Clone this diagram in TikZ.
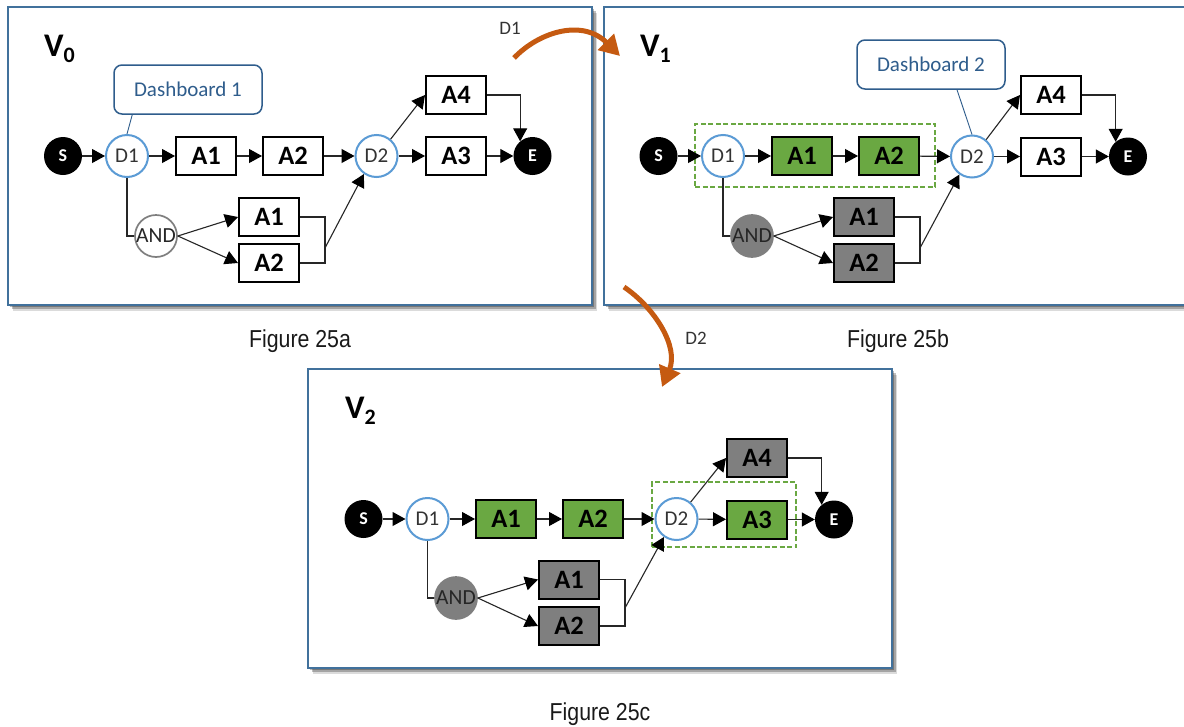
\documentclass[tikz,border=0pt]{standalone}
\usepackage{fontspec}
\setmainfont{Carlito}
\newfontfamily\capfont{Liberation Sans}
\usetikzlibrary{arrows.meta,shadows}
\definecolor{panelblue}{HTML}{41719C}
\definecolor{dashblue}{HTML}{2F5D8C}
\definecolor{ringblue}{HTML}{5B9BD5}
\definecolor{okgreen}{HTML}{6AA842}
\definecolor{boxgray}{HTML}{7F7F7F}
\definecolor{burnt}{HTML}{C55A11}
\newcommand{\fs}[1]{\fontsize{#1}{#1}\selectfont}
\newcommand{\vlabel}[1]{{\fs{33}\bfseries V\raisebox{-6.5pt}{\fs{22}#1}}}
\tikzset{
  x=1pt,y=-1pt,
  panel/.style={draw=panelblue,line width=2pt,fill=white,inner sep=0pt,
    drop shadow={shadow xshift=2pt,shadow yshift=-2pt,opacity=.28,fill=black},
    drop shadow={shadow xshift=3.5pt,shadow yshift=-4pt,opacity=.25,fill=black},
    drop shadow={shadow xshift=5pt,shadow yshift=-6pt,opacity=.14,fill=black}},
  act/.style={draw=black,line width=2pt,fill=white,minimum width=60pt,minimum height=38pt,inner sep=0pt,font=\fs{26.5}\bfseries},
  actgreen/.style={act,fill=okgreen},
  actgray/.style={act,fill=boxgray},
  ends/.style={circle,fill=black,text=white,minimum size=38pt,inner sep=0pt,font=\fs{18}\bfseries},
  dec/.style={circle,draw=ringblue,line width=2pt,fill=white,minimum size=42pt,inner sep=0pt,font=\fs{21},text=black!80},
  andw/.style={circle,draw=boxgray,line width=1.7pt,fill=white,minimum size=42pt,inner sep=0pt,font=\fs{21.5},text=black!85},
  andg/.style={andw,fill=boxgray},
  dashbox/.style={draw=dashblue,line width=1.5pt,rounded corners=8pt,fill=white,inner sep=0pt,text=dashblue,font=\fs{21}},
  link/.style={draw=black!85,line width=1.1pt},
  arr/.style={link,-{Triangle[length=13pt,width=14pt,fill=black,color=black]}},
  callout/.style={draw=dashblue,line width=.9pt},
  groupbox/.style={draw=okgreen,line width=1.6pt,dash pattern=on 5pt off 2.5pt,inner sep=0pt},
  vtitle/.style={anchor=base west,inner sep=0pt},
  figcap/.style={font=\capfont\fs{24.5},xscale=.87,transform shape,inner sep=0pt,text=black!90},
  small/.style={font=\fs{19},text=black!80,inner sep=0pt},
  bigarrow/.style={draw=burnt,line width=5pt,-{Triangle[length=20pt,width=22pt]}},
}
\begin{document}
\begin{tikzpicture}
\useasboundingbox (0,0) rectangle (1184,726);
% ---------- panels
\node[panel,minimum width=584pt,minimum height=298pt] (pa) at (300,156) {};
\node[panel,minimum width=590pt,minimum height=298pt] (pb) at (899,156) {};
\node[panel,minimum width=584pt,minimum height=299pt] (pc) at (600,518.5) {};
% ---------- panel a
\node[vtitle] (va) at (44,56) {\vlabel{0}};
\node[dashbox,minimum width=148pt,minimum height=49pt] (da) at (188,89.5) {Dashboard 1};
\node[ends] (as) at (63,156) {S};
\node[dec] (ad1) at (127,156) {D1};
\node[act] (aa1) at (206,156) {A1};
\node[act] (aa2) at (293,156) {A2};
\node[dec] (ad2) at (376.5,156) {D2};
\node[act] (aa3) at (456,156) {A3};
\node[act] (aa4) at (456,95) {A4};
\node[ends] (ae) at (532.5,156) {E};
\node[andw] (aand) at (156,236) {AND};
\node[act] (ab1) at (269,217) {A1};
\node[act] (ab2) at (269,263) {A2};
\coordinate (am) at (325,248);
\draw[callout] (da.south west) ++(19,0) coordinate (dac) -- (ad1.north);
\draw[arr] (as) -- (ad1);
\draw[arr] (ad1) -- (aa1);
\draw[arr] (aa1) -- (aa2);
\draw[arr] (aa2) -- (ad2);
\draw[arr] (ad2) -- (aa3);
\draw[arr] (aa3) -- (ae);
\draw[arr] (ad2.50) -- (aa4.west);
\draw[arr] (aa4.east) -| (ae.130);
\draw[link] (ad1.south) |- (aand.west);
\draw[arr] (aand.east) -- (ab1.west);
\draw[arr] (aand.east) -- (ab2.west);
\draw[link] (ab1.east) -| (am);
\draw[link] (ab2.east) -| (am);
\draw[arr] (am) -- (ad2.235);
\node[figcap] (fa) at (300,341.5) {Figure 25a};
% ---------- panel b
\node[vtitle] (vb) at (640,56) {\vlabel{1}};
\node[dashbox,minimum width=148pt,minimum height=49pt] (db) at (931,64.5) {Dashboard 2};
\node[groupbox,minimum width=240pt,minimum height=63pt] (gb) at (815,155.5) {};
\node[ends] (bs) at (658.5,156) {S};
\node[dec] (bd1) at (723,156) {D1};
\node[actgreen] (ba1) at (802,156) {A1};
\node[actgreen] (ba2) at (889,156) {A2};
\node[dec] (bd2) at (972,156.5) {D2};
\node[act] (ba3) at (1051,156.5) {A3};
\node[act] (ba4) at (1051,95) {A4};
\node[ends] (be) at (1128,156.5) {E};
\node[andg] (band) at (752,236) {AND};
\node[actgray] (bb1) at (864,217) {A1};
\node[actgray] (bb2) at (864,263) {A2};
\coordinate (bm) at (920,248);
\draw[callout] (db.south) ++(26,0) coordinate (dbc) -- (bd2.north);
\draw[arr] (bs) -- (bd1);
\draw[arr] (bd1) -- (ba1);
\draw[arr] (ba1) -- (ba2);
\draw[arr] (ba2) -- (bd2);
\draw[arr] (bd2) -- (ba3);
\draw[arr] (ba3) -- (be);
\draw[arr] (bd2.50) -- (ba4.west);
\draw[arr] (ba4.east) -| (be.130);
\draw[link] (bd1.south) |- (band.west);
\draw[arr] (band.east) -- (bb1.west);
\draw[arr] (band.east) -- (bb2.west);
\draw[link] (bb1.east) -| (bm);
\draw[link] (bb2.east) -| (bm);
\draw[arr] (bm) -- (bd2.235);
\node[figcap] (fb) at (898,341.5) {Figure 25b};
% ---------- panel c
\node[vtitle] (vc) at (345,418) {\vlabel{2}};
\node[groupbox,minimum width=144pt,minimum height=65pt] (gc) at (724,514.5) {};
\node[ends] (cs) at (363.5,519) {S};
\node[dec] (cd1) at (427.5,519) {D1};
\node[actgreen] (ca1) at (506,519) {A1};
\node[actgreen] (ca2) at (593,519) {A2};
\node[dec] (cd2) at (676.5,519) {D2};
\node[actgreen] (ca3) at (757,519.5) {A3};
\node[actgray] (ca4) at (757,458) {A4};
\node[ends] (ce) at (834,519.5) {E};
\node[andg] (cand) at (456,598) {AND};
\node[actgray] (cb1) at (569,579.5) {A1};
\node[actgray] (cb2) at (569,626) {A2};
\coordinate (cm) at (625,608);
\draw[arr] (cs) -- (cd1);
\draw[arr] (cd1) -- (ca1);
\draw[arr] (ca1) -- (ca2);
\draw[arr] (ca2) -- (cd2);
\draw[arr] (cd2) -- (ca3);
\draw[arr] (ca3) -- (ce);
\draw[arr] (cd2.50) -- (ca4.west);
\draw[arr] (ca4.east) -| (ce.130);
\draw[link] (cd1.south) |- (cand.west);
\draw[arr] (cand.east) -- (cb1.west);
\draw[arr] (cand.east) -- (cb2.west);
\draw[link] (cb1.east) -| (cm);
\draw[link] (cb2.east) -| (cm);
\draw[arr] (cm) -- (cd2.235);
\node[figcap] (fc) at (600,714) {Figure 25c};
% ---------- transitions
\coordinate (t1s) at (514,58);
\coordinate (t1e) at (620,56);
\coordinate (t2s) at (624,287);
\coordinate (t2e) at (662,387);
\draw[bigarrow] (t1s) .. controls (540,31) and (583,19) .. (t1e);
\draw[bigarrow] (t2s) .. controls (655,308) and (679,347) .. (t2e);
\node[small] (l1) at (510,28) {D1};
\node[small] (l2) at (696,338) {D2};
\end{tikzpicture}
\end{document}
